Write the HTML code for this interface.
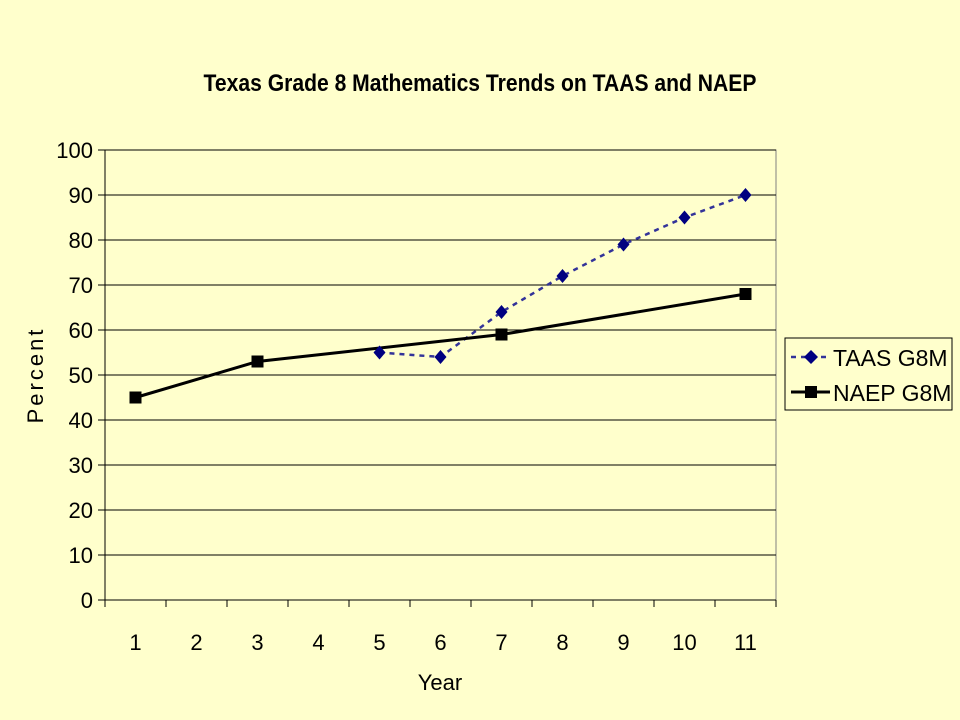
<!DOCTYPE html>
<html><head><meta charset="utf-8"><style>
body{margin:0;background:#FFFFCC;}
svg{display:block;font-family:"Liberation Sans",Arial,sans-serif;}
</style></head><body>
<svg width="960" height="720" id="c">
<rect width="960" height="720" fill="#FFFFCC"/>
<text x="480" y="91" text-anchor="middle" font-size="24" font-weight="bold" transform="translate(480,0) scale(0.88,1) translate(-480,0)">Texas Grade 8 Mathematics Trends on TAAS and NAEP</text>
<g id="grid"></g><g id="axes"></g><g id="series"></g>
<text transform="translate(43,375) rotate(-90)" text-anchor="middle" font-size="22" letter-spacing="3">Percent</text>
<text x="440" y="690" text-anchor="middle" font-size="22">Year</text>
<g>
<rect x="785" y="338" width="167" height="72" fill="#FFFFCC" stroke="#000" stroke-width="1"/>
<g>
<line x1="791" y1="357" x2="830" y2="357" stroke="#333399" stroke-width="2.5" stroke-dasharray="5,5"/>
<path d="M811,350 L818,357 L811,364 L804,357Z" fill="#000080"/>
<text x="833" y="366" font-size="23">TAAS G8M</text></g>
<g>
<line x1="791" y1="392" x2="830" y2="392" stroke="#000" stroke-width="3"/>
<rect x="805" y="386" width="12" height="12" fill="#000"/>
<text x="833" y="401" font-size="23">NAEP G8M</text></g>
</g>
</svg>
<script>
const categories=["1","2","3","4","5","6","7","8","9","10","11"];
const taasValues=[null,null,null,null,55,54,64,72,79,85,90];
const naepValues=[45,null,53,null,null,null,59,null,null,null,68];
const yTicks=[0,10,20,30,40,50,60,70,80,90,100];
const NS="http://www.w3.org/2000/svg";
const L=105,R=776,T=150,B=600;
const step=(R-L)/categories.length;
const xs=i=>L+step*(i+0.5);
const ys=v=>B-(v/100)*(B-T);
function mk(t,a,p){const e=document.createElementNS(NS,t);for(const k in a)e.setAttribute(k,a[k]);p.appendChild(e);return e;}
const grid=document.getElementById('grid'),axes=document.getElementById('axes'),ser=document.getElementById('series');
mk('rect',{x:L,y:T,width:R-L,height:B-T,fill:'none',stroke:'#808080'},grid);
yTicks.forEach(v=>{
 if(v>0){const g=mk('line',{x1:L,x2:R,y1:ys(v),y2:ys(v),stroke:'#000','stroke-width':1},grid);
 }
 mk('line',{x1:L-7,x2:L,y1:ys(v),y2:ys(v),stroke:'#000'},axes);
 const t=mk('text',{x:L-12,y:ys(v)+8,'text-anchor':'end','font-size':22},axes);t.textContent=v;
 
});
mk('line',{x1:L,x2:L,y1:T,y2:B,stroke:'#000'},axes);
mk('line',{x1:L,x2:R,y1:B,y2:B,stroke:'#000'},axes);
for(let i=0;i<=categories.length;i++)mk('line',{x1:L+step*i,x2:L+step*i,y1:B,y2:B+7,stroke:'#000'},axes);
categories.forEach((c,i)=>{const t=mk('text',{x:xs(i),y:650,'text-anchor':'middle','font-size':22},axes);t.textContent=c;
 });
function pts(vals){const p=[];vals.forEach((v,i)=>{if(v!=null)p.push([xs(i),ys(v)]);});return p;}
const tp=pts(taasValues),np=pts(naepValues);
const tl=mk('polyline',{points:tp.map(p=>p.join(',')).join(' '),fill:'none',stroke:'#333399','stroke-width':2.5,'stroke-dasharray':'5,5'},ser);

const nl=mk('polyline',{points:np.map(p=>p.join(',')).join(' '),fill:'none',stroke:'#000','stroke-width':3},ser);

tp.forEach(([x,y])=>{const m=mk('path',{d:`M${x},${y-7}L${x+6},${y}L${x},${y+7}L${x-6},${y}Z`,fill:'#000080'},ser);
 });
np.forEach(([x,y])=>{const m=mk('rect',{x:x-6,y:y-6,width:12,height:12,fill:'#000'},ser);
 });
</script>
</body></html>
